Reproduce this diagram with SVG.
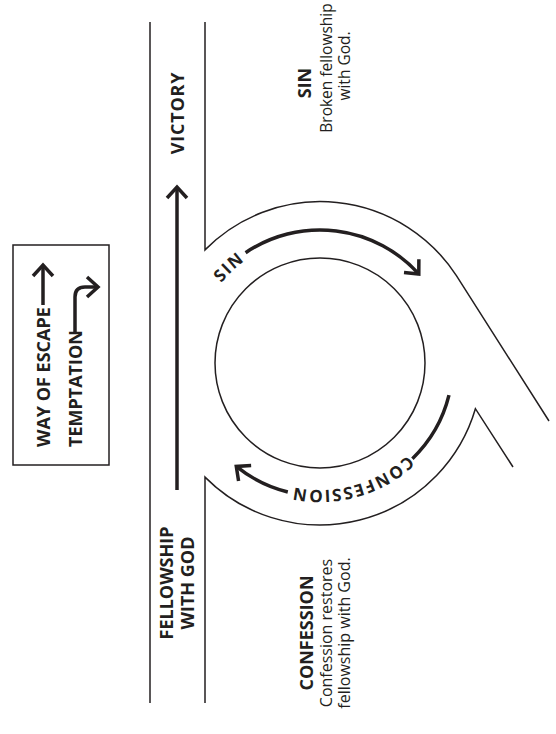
<svg xmlns="http://www.w3.org/2000/svg" width="556" height="734" viewBox="0 0 556 734">
<style>
.thin{fill:none;stroke:#231f20;stroke-width:1.5}
.thick{fill:none;stroke:#231f20;stroke-width:3.5}
.b{font-family:"Open Sans","Noto Sans",sans-serif;font-weight:bold;fill:#231f20}
.r{font-family:"Open Sans","Noto Sans",sans-serif;fill:#231f20}
</style>
<defs>
<marker id="chev" markerUnits="userSpaceOnUse" markerWidth="30" markerHeight="30" orient="auto" refX="0" refY="0" viewBox="-15 -15 30 30" overflow="visible">
<path d="M-11,-10 L0,0 L-11,10" fill="none" stroke="#231f20" stroke-width="3.5"/>
</marker>
<path id="tp" d="M447,363 A127,127 0 1 1 193,363 A127,127 0 1 1 447,363"/>
</defs>
<rect width="556" height="734" fill="#fff"/>

<g id="legend">
<rect class="thin" x="13" y="245" width="96" height="220"/>
<text class="b" font-size="18" transform="translate(50,447) rotate(-90)">WAY OF ESCAPE</text>
<path class="thick" d="M43,305 L43,265" marker-end="url(#chev)"/>
<text class="b" font-size="18" transform="translate(82,447) rotate(-90)">TEMPTATION</text>
<path class="thick" d="M75,334 L75,297 Q75,287 85,287 L98,287" marker-end="url(#chev)"/>
</g>

<g id="road">
<line class="thin" x1="150" y1="22" x2="150" y2="703"/>
<path class="thin" d="M205,22 L205,249.9 A162,162 0 0 1 456.4,275.7 L549,421"/>
<path class="thin" d="M205,703 L205,477.1 A162,162 0 0 0 475.4,408.7 L513,467"/>
</g>

<g id="circle">
<circle class="thin" cx="320" cy="363" r="105"/>
</g>

<g id="connectors">
<path class="thick" d="M177,490 L177,187" marker-end="url(#chev)"/>
<path class="thick" d="M245.6,252.7 A133,133 0 0 1 418.8,274" marker-end="url(#chev)"/>
<path class="thick" d="M449,395.2 A133,133 0 0 1 412.4,458.7"/>
<path class="thick" d="M287.8,492 A133,133 0 0 1 236.3,466.4" marker-end="url(#chev)"/>
</g>

<g id="arc-labels">
<text class="b" font-size="17" letter-spacing="1.5" text-anchor="middle"><textPath href="#tp" startOffset="502">SIN</textPath></text>
<text class="b" font-size="17" letter-spacing="1.5" text-anchor="middle"><textPath href="#tp" startOffset="165">CONFESSION</textPath></text>
</g>

<g id="victory">
<text class="b" font-size="18" letter-spacing="0.8" text-anchor="middle" transform="translate(184,113) rotate(-90)">VICTORY</text>
</g>
<g id="fellowship">
<text class="b" font-size="18" text-anchor="middle" transform="translate(173,583) rotate(-90)">FELLOWSHIP</text>
<text class="b" font-size="18" text-anchor="middle" transform="translate(194,583) rotate(-90)">WITH GOD</text>
</g>
<g id="sin-note">
<text class="b" font-size="18" text-anchor="middle" transform="translate(311,83) rotate(-90)">SIN</text>
<text class="r" font-size="15.5" text-anchor="middle" transform="translate(332,68) rotate(-90)">Broken fellowship</text>
<text class="r" font-size="15.5" text-anchor="middle" transform="translate(350,66) rotate(-90)">with God.</text>
</g>
<g id="confession-note">
<text class="b" font-size="18" text-anchor="middle" transform="translate(313,633) rotate(-90)">CONFESSION</text>
<text class="r" font-size="16" text-anchor="middle" transform="translate(332,633) rotate(-90)">Confession restores</text>
<text class="r" font-size="16" text-anchor="middle" transform="translate(350,633) rotate(-90)">fellowship with God.</text>
</g>
</svg>
